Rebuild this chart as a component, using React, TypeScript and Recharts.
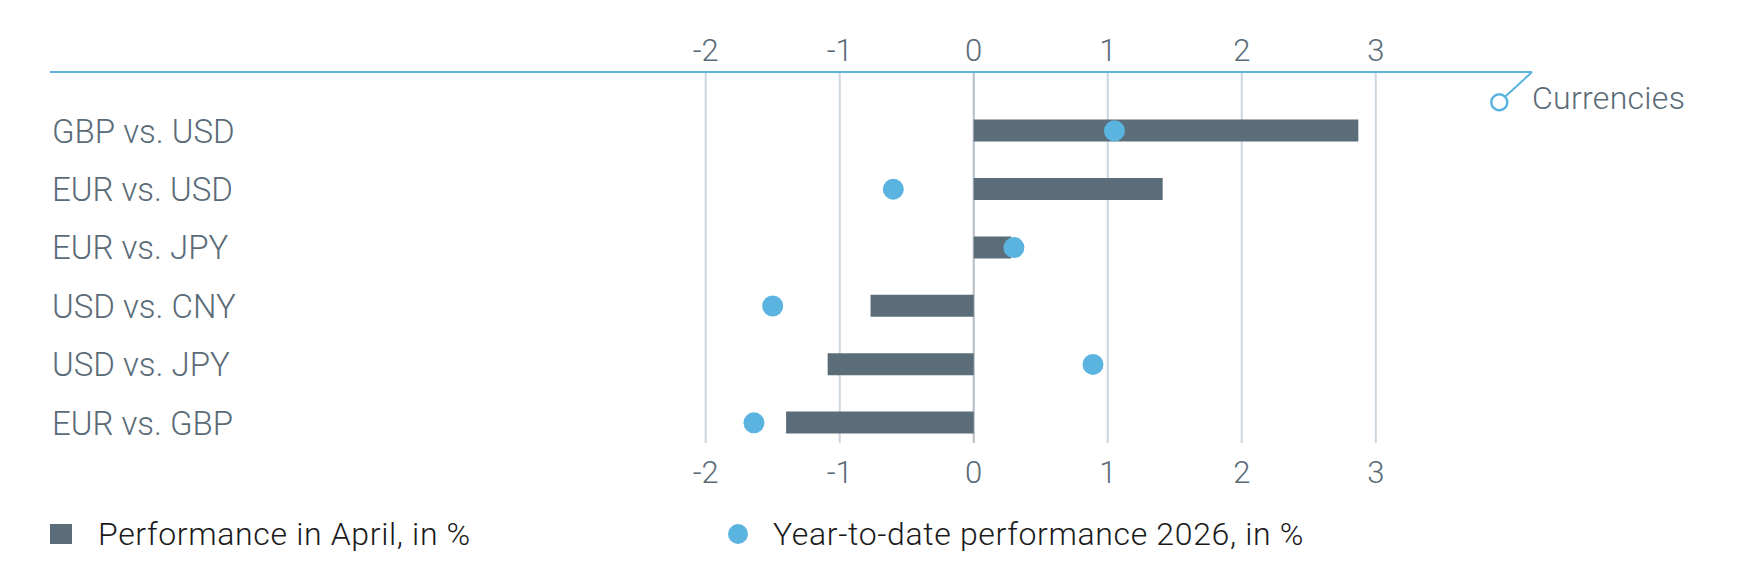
import React from "react";
import {
  ComposedChart,
  Bar,
  Scatter,
  XAxis,
  YAxis,
  CartesianGrid,
  Legend,
  Customized,
} from "recharts";

// ---- data ----
const categories = [
  "GBP vs. USD",
  "EUR vs. USD",
  "EUR vs. JPY",
  "USD vs. CNY",
  "USD vs. JPY",
  "EUR vs. GBP",
];
const aprilPerf = [2.87, 1.41, 0.28, -0.77, -1.09, -1.4];
const ytdPerf = [1.05, -0.6, 0.3, -1.5, 0.89, -1.64];
const xTicks = [-2, -1, 0, 1, 2, 3];
const seriesNames = {
  april: "Performance in April, in %",
  ytd: "Year-to-date performance 2026, in %",
};
const groupLabel = "Currencies";

const data = categories.map((name, i) => ({
  name,
  april: aprilPerf[i],
  ytd: ytdPerf[i],
}));

// ---- styling / layout ----
const CHART_W = 1746;
const CHART_H = 578;
const MARGIN = { top: 34, right: 222, left: 41, bottom: 94 };
const Y_AXIS_W = 1;
const TOP_AXIS_H = 30;
const BOTTOM_AXIS_H = 40;
const DOMAIN: [number, number] = [-6.893, 4.166];
const FONT = "Roboto, 'Liberation Sans', Arial, sans-serif";
const TEXT = "#5a6b78";
const BAR = "#5a6d79";
const DOT = "#5bb4e0";
const GRID = "#cdd5de";
const ZERO = "#b3bcc5";

const PLOT_RIGHT = CHART_W - MARGIN.right;
const PLOT_TOP = MARGIN.top + TOP_AXIS_H;

const tickStyle = { fill: TEXT, fontSize: 31, fontFamily: FONT, fontWeight: 300 };

const GridLine = (props: any) => {
  const { x1, x2, y1, y2, index } = props;
  if (index >= xTicks.length) return <g />;
  const isZero = xTicks[index] === 0;
  return (
    <line
      x1={x1}
      x2={x2}
      y1={y1}
      y2={y2 - 9}
      stroke={isZero ? ZERO : GRID}
      strokeWidth={2}
    />
  );
};

const CategoryTick = (props: any) => {
  const { x, y, payload } = props;
  return (
    <text
      x={x + 2}
      y={y}
      dy="0.355em"
      textAnchor="start"
      fill={TEXT}
      fontSize={33}
      fontFamily={FONT}
      fontWeight={300}
    >
      {payload.value}
    </text>
  );
};

const DotShape = (props: any) => (
  <circle cx={props.cx} cy={props.cy} r={10.5} fill={DOT} />
);

const CurrencyMarker = () => {
  const cx = PLOT_RIGHT - 32.7;
  const cy = PLOT_TOP + 30.3;
  const r = 8;
  return (
    <g>
      <line
        x1={PLOT_RIGHT}
        y1={PLOT_TOP}
        x2={cx + r * 0.72}
        y2={cy - r * 0.69}
        stroke={DOT}
        strokeWidth={2}
      />
      <circle cx={cx} cy={cy} r={r} fill="#fff" stroke={DOT} strokeWidth={2.5} />
      <text
        x={PLOT_RIGHT}
        y={PLOT_TOP + 37}
        fill={TEXT}
        fontSize={32}
        fontFamily={FONT}
        fontWeight={300}
        letterSpacing={0.3}
      >
        {groupLabel}
      </text>
    </g>
  );
};

const LegendContent = (props: any) => {
  const payload = props.payload || [];
  return (
    <div style={{ display: "flex", alignItems: "center", height: 44 }}>
      {payload.map((entry: any, i: number) => (
        <div
          key={i}
          style={{
            display: "flex",
            alignItems: "center",
            width: i === 0 ? 678 : "auto",
          }}
        >
          {entry.type === "circle" ? (
            <span
              style={{
                display: "inline-block",
                width: 20,
                height: 20,
                borderRadius: 10,
                background: entry.color,
                marginRight: 25,
              }}
            />
          ) : (
            <span
              style={{
                display: "inline-block",
                width: 22,
                height: 20,
                background: entry.color,
                marginRight: 26,
              }}
            />
          )}
          <span
            style={{
              fontFamily: FONT,
              fontSize: 32,
              fontWeight: 300,
              letterSpacing: 0.65,
              color: "#1a1a1a",
              whiteSpace: "nowrap",
              lineHeight: "44px",
            }}
          >
            {entry.value}
          </span>
        </div>
      ))}
    </div>
  );
};

export default function App() {
  return (
    <div style={{ width: CHART_W, height: CHART_H, background: "#fff" }}>
      <ComposedChart
        width={CHART_W}
        height={CHART_H}
        data={data}
        layout="vertical"
        margin={MARGIN}
      >
        <CartesianGrid
          xAxisId="top"
          horizontal={false}
          vertical={GridLine as any}
          syncWithTicks
        />
        <XAxis
          xAxisId="top"
          orientation="top"
          type="number"
          domain={DOMAIN}
          ticks={xTicks}
          allowDataOverflow
          height={TOP_AXIS_H}
          axisLine={{ stroke: DOT, strokeWidth: 2 }}
          tickLine={false}
          tickSize={0}
          tickMargin={11}
          tick={tickStyle}
          interval={0}
        />
        <XAxis
          xAxisId="bottom"
          orientation="bottom"
          type="number"
          domain={DOMAIN}
          ticks={xTicks}
          allowDataOverflow
          height={BOTTOM_AXIS_H}
          axisLine={false}
          tickLine={false}
          tickSize={0}
          tickMargin={9}
          tick={tickStyle}
          interval={0}
        />
        <YAxis
          type="category"
          dataKey="name"
          width={Y_AXIS_W}
          axisLine={false}
          tickLine={false}
          tickSize={0}
          tickMargin={0}
          padding={{ top: 29.6, bottom: 0 }}
          tick={CategoryTick}
          interval={0}
        />
        <Bar
          xAxisId="top"
          dataKey="april"
          name={seriesNames.april}
          fill={BAR}
          barSize={22}
          legendType="rect"
          isAnimationActive={false}
        />
        <Scatter
          xAxisId="top"
          dataKey="ytd"
          name={seriesNames.ytd}
          fill={DOT}
          shape={DotShape}
          legendType="circle"
          isAnimationActive={false}
        />
        <Legend
          layout="horizontal"
          verticalAlign="middle"
          align="center"
          wrapperStyle={{ left: 42, top: 504, width: 1300, height: 44 }}
          content={LegendContent}
        />
        <Customized component={CurrencyMarker} />
      </ComposedChart>
    </div>
  );
}
